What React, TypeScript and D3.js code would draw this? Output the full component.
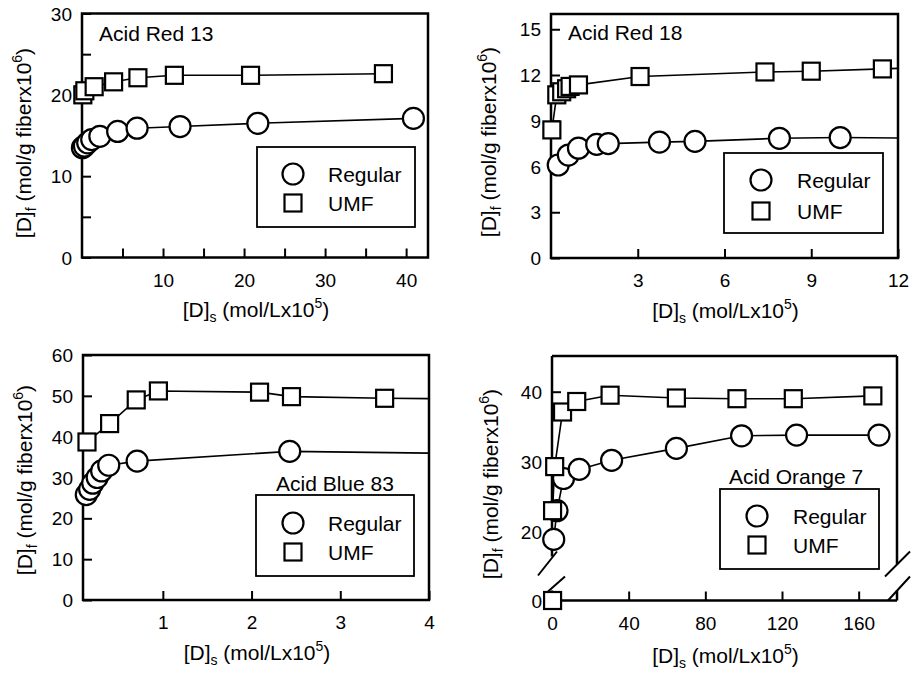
import React, { useEffect, useRef } from "react";
import * as d3 from "d3";

type Pt = [number, number];

// values: [ [D]s , [D]f ]
const red13Regular: Pt[] = [[0.05, 13.5], [0.3, 13.7], [0.7, 14.1], [1.2, 14.5], [2.2, 14.9], [4.4, 15.5], [6.8, 15.9], [12.1, 16.1], [21.7, 16.5], [40.9, 17.1]];
const red13Umf: Pt[] = [[0.1, 20.0], [0.35, 20.5], [1.5, 21.0], [3.9, 21.6], [6.9, 22.1], [11.4, 22.4], [20.8, 22.4], [37.2, 22.6]];

const red18Regular: Pt[] = [[0.25, 6.1], [0.6, 6.75], [0.95, 7.2], [1.58, 7.45], [1.98, 7.5], [3.75, 7.6], [4.98, 7.65], [7.9, 7.85], [10.0, 7.9], [13.0, 7.85]];
const red18Umf: Pt[] = [[0.03, 8.4], [0.2, 10.7], [0.37, 10.9], [0.54, 11.1], [0.66, 11.25], [0.95, 11.35], [3.08, 11.9], [7.4, 12.2], [9.0, 12.25], [11.46, 12.4], [13.0, 12.5]];

const blue83Regular: Pt[] = [[0.137, 25.8], [0.175, 27.1], [0.21, 28.6], [0.26, 30.0], [0.31, 31.6], [0.39, 33.0], [0.71, 34.0], [2.43, 36.4], [4.6, 35.8]];
const blue83Umf: Pt[] = [[0.145, 38.7], [0.4, 43.2], [0.7, 49.0], [0.95, 51.2], [2.09, 50.9], [2.45, 49.8], [3.5, 49.4], [4.6, 49.2]];

const orange7Regular: Pt[] = [[0.9, 18.9], [2.6, 23.0], [6.0, 27.6], [14.2, 28.9], [31.1, 30.2], [64.9, 31.9], [98.9, 33.7], [127.6, 33.8], [170.6, 33.8]];
const orange7Umf: Pt[] = [[0.3, 0], [0.3, 23.0], [1.4, 29.3], [5.5, 37.1], [12.9, 38.6], [30.3, 39.5], [64.9, 39.1], [96.5, 39.0], [125.9, 39.0], [167.4, 39.4]];

// ticks and which of them carry a label
const red13XTicks = [5, 10, 15, 20, 25, 30, 35, 40];
const red13XLabels = [10, 20, 30, 40];
const red13YTicks = [0, 5, 10, 15, 20, 25, 30];
const red13YLabels = [0, 10, 20, 30];

const red18XTicks = [3, 6, 9, 12];
const red18YTicks = [0, 3, 6, 9, 12, 15];

const blue83XTicks = [1, 2, 3, 4];
const blue83YTicks = [0, 10, 20, 30, 40, 50, 60];

const orange7XTicks = [0, 40, 80, 120, 160];
const orange7YTicks = [0, 20, 30, 40];

const titles = ["Acid Red 13", "Acid Red 18", "Acid Blue 83", "Acid Orange 7"];
const seriesNames = ["Regular", "UMF"];

const FONT = "Arial, 'Liberation Sans', Helvetica, sans-serif";

const panels = [
  {
    title: titles[0], titlePos: [99, 40.5],
    left: 82, right: 428, top: 13.5, bottom: 257.5,
    xDomain: [0, 42.7], yDomain: [0, 30], yRange: null as number[] | null,
    xTicks: red13XTicks, xLabels: red13XLabels, yTicks: red13YTicks, yLabels: red13YLabels,
    regular: red13Regular, umf: red13Umf,
    legend: { x0: 257, y0: 147, x1: 415, y1: 227, sx: 293, ry: 174, uy: 203, tx: 328 },
    yTitle: [31, 143], xTitleY: 317, broken: false,
  },
  {
    title: titles[1], titlePos: [568, 39.5],
    left: 551, right: 898, top: 14, bottom: 258,
    xDomain: [0, 12], yDomain: [0, 16], yRange: null,
    xTicks: red18XTicks, xLabels: red18XTicks, yTicks: red18YTicks, yLabels: red18YTicks,
    regular: red18Regular, umf: red18Umf,
    legend: { x0: 724, y0: 153, x1: 883, y1: 233, sx: 761, ry: 180, uy: 211, tx: 797 },
    yTitle: [496, 142], xTitleY: 318, broken: false,
  },
  {
    title: titles[2], titlePos: [276, 491],
    left: 83, right: 429, top: 355, bottom: 600,
    xDomain: [0.1, 4], yDomain: [0, 60], yRange: null,
    xTicks: blue83XTicks, xLabels: blue83XTicks, yTicks: blue83YTicks, yLabels: blue83YTicks,
    regular: blue83Regular, umf: blue83Umf,
    legend: { x0: 256, y0: 495, x1: 414, y1: 576, sx: 293, ry: 523, uy: 552, tx: 328 },
    yTitle: [32, 480], xTitleY: 660, broken: false,
  },
  {
    title: titles[3], titlePos: [729, 484],
    left: 552, right: 897, top: 356, bottom: 600.5,
    xDomain: [0, 180], yDomain: [0, 15, 45.1], yRange: [600.5, 566.7, 356],
    xTicks: orange7XTicks, xLabels: orange7XTicks, yTicks: orange7YTicks, yLabels: orange7YTicks,
    regular: orange7Regular, umf: orange7Umf,
    legend: { x0: 720, y0: 489, x1: 879, y1: 569, sx: 757, ry: 516, uy: 545, tx: 793 },
    yTitle: [498, 484], xTitleY: 663, broken: true,
  },
];

type Panel = (typeof panels)[number];

function drawPanel(svg: any, p: Panel, idx: number) {
  const x = d3.scaleLinear().domain(p.xDomain).range([p.left, p.right]);
  const y = d3.scaleLinear().domain(p.yDomain).range(p.yRange ?? [p.bottom, p.top]);
  const g = svg.append("g");

  // clip for the curves that run out of the frame
  g.append("clipPath").attr("id", `clip${idx}`)
    .append("rect")
    .attr("x", p.left).attr("y", p.top)
    .attr("width", p.right - p.left).attr("height", p.bottom - p.top);

  // x axis (inner ticks)
  g.append("g")
    .attr("transform", `translate(0,${p.bottom})`)
    .call(d3.axisBottom(x).tickValues(p.xTicks).tickSizeInner(-9).tickSizeOuter(0)
      .tickFormat((d: any) => (p.xLabels.includes(+d) ? String(d) : "")))
    .call((a: any) => a.select(".domain").remove())
    .call((a: any) => a.selectAll("line").attr("stroke", "#000").attr("stroke-width", 2))
    .call((a: any) => a.selectAll("text").attr("y", 29).attr("dy", null).attr("fill", "#000"))
    .attr("font-size", 19)
    .attr("font-family", FONT);

  // y axis
  g.append("g")
    .attr("transform", `translate(${p.left},0)`)
    .call(d3.axisLeft(y).tickValues(p.yTicks).tickSizeInner(-9).tickSizeOuter(0)
      .tickFormat((d: any) => (p.yLabels.includes(+d) ? String(d) : "")))
    .call((a: any) => a.select(".domain").remove())
    .call((a: any) => a.selectAll("line").attr("stroke", "#000").attr("stroke-width", 2))
    .call((a: any) => a.selectAll("text").attr("x", -10).attr("dy", "0.35em").attr("fill", "#000"))
    .attr("font-size", 19)
    .attr("font-family", FONT);

  // frame
  if (!p.broken) {
    g.append("rect")
      .attr("x", p.left).attr("y", p.top)
      .attr("width", p.right - p.left).attr("height", p.bottom - p.top)
      .attr("fill", "none").attr("stroke", "#000").attr("stroke-width", 2.5);
  } else {
    const L = p.left, R = p.right, T = p.top, B = p.bottom;
    const frame = d3.path();
    frame.moveTo(L, B); frame.lineTo(R, B);
    frame.moveTo(L, T); frame.lineTo(R, T);
    frame.moveTo(L, T); frame.lineTo(L, B - 44);
    frame.moveTo(L, B - 10); frame.lineTo(L, B);
    frame.moveTo(R, T); frame.lineTo(R, B - 36);
    frame.moveTo(R, B - 10); frame.lineTo(R, B);
    g.append("path").attr("d", frame.toString())
      .attr("fill", "none").attr("stroke", "#000").attr("stroke-width", 2.5);
    const marks = d3.path();
    // break on the y axis
    marks.moveTo(L - 14, B - 25); marks.lineTo(L + 5, B - 49);
    marks.moveTo(L - 4, B - 9); marks.lineTo(L + 13, B - 24);
    // break at the right end of the x axis
    marks.moveTo(R - 12, B - 24); marks.lineTo(R + 13, B - 49);
    marks.moveTo(R - 9, B); marks.lineTo(R + 13, B - 24);
    g.append("path").attr("d", marks.toString())
      .attr("fill", "none").attr("stroke", "#000").attr("stroke-width", 2);
  }

  // curves
  const line = d3.line<Pt>()
    .defined(d => !p.broken || d[1] > 0)
    .x(d => x(d[0]))
    .y(d => y(d[1]));
  [p.regular, p.umf].forEach(s => {
    g.append("path")
      .attr("d", line(s))
      .attr("clip-path", `url(#clip${idx})`)
      .attr("fill", "none").attr("stroke", "#000").attr("stroke-width", 1.6);
  });

  const inDomain = (d: Pt) => d[0] <= p.xDomain[p.xDomain.length - 1];

  g.append("g").selectAll("circle")
    .data(p.regular.filter(inDomain))
    .join("circle")
    .attr("cx", (d: Pt) => x(d[0]))
    .attr("cy", (d: Pt) => y(d[1]))
    .attr("r", 10.5)
    .attr("fill", "#fff").attr("stroke", "#000").attr("stroke-width", 2.2);

  const side = 17;
  g.append("g").selectAll("rect")
    .data(p.umf.filter(inDomain))
    .join("rect")
    .attr("x", (d: Pt) => x(d[0]) - side / 2)
    .attr("y", (d: Pt) => y(d[1]) - side / 2)
    .attr("width", side).attr("height", side)
    .attr("fill", "#fff").attr("stroke", "#000").attr("stroke-width", 2.2);

  // title
  g.append("text")
    .attr("x", p.titlePos[0]).attr("y", p.titlePos[1])
    .attr("font-family", FONT).attr("font-size", 21)
    .text(p.title);

  // legend
  const lg = p.legend;
  g.append("rect")
    .attr("x", lg.x0).attr("y", lg.y0)
    .attr("width", lg.x1 - lg.x0).attr("height", lg.y1 - lg.y0)
    .attr("fill", "#fff").attr("stroke", "#000").attr("stroke-width", 1.8);
  g.append("circle")
    .attr("cx", lg.sx).attr("cy", lg.ry).attr("r", 10.5)
    .attr("fill", "#fff").attr("stroke", "#000").attr("stroke-width", 2.2);
  g.append("rect")
    .attr("x", lg.sx - side / 2).attr("y", lg.uy - side / 2)
    .attr("width", side).attr("height", side)
    .attr("fill", "#fff").attr("stroke", "#000").attr("stroke-width", 2.2);
  [lg.ry, lg.uy].forEach((cy, i) => {
    g.append("text")
      .attr("x", lg.tx).attr("y", cy).attr("dy", "0.36em")
      .attr("font-family", FONT).attr("font-size", 21)
      .text(seriesNames[i]);
  });

  // x axis title
  const xt = g.append("text")
    .attr("x", (p.left + p.right) / 2 + 1).attr("y", p.xTitleY)
    .attr("text-anchor", "middle")
    .attr("font-family", FONT).attr("font-size", 21);
  xt.append("tspan").text("[D]");
  xt.append("tspan").attr("font-size", 14).attr("dy", 5).text("s");
  xt.append("tspan").attr("dy", -5).text(" (mol/Lx10");
  xt.append("tspan").attr("font-size", 14).attr("dy", -9).text("5");
  xt.append("tspan").attr("dy", 9).text(")");

  // y axis title
  const yt = g.append("text")
    .attr("transform", `translate(${p.yTitle[0]},${p.yTitle[1]}) rotate(-90)`)
    .attr("text-anchor", "middle")
    .attr("font-family", FONT).attr("font-size", 21);
  yt.append("tspan").text("[D]");
  yt.append("tspan").attr("font-size", 14).attr("dy", 5).text("f");
  yt.append("tspan").attr("dy", -5).text(" (mol/g fiberx10");
  yt.append("tspan").attr("font-size", 14).attr("dy", -9).text("6");
  yt.append("tspan").attr("dy", 9).text(")");
}

const App = () => {
  const ref = useRef<SVGSVGElement>(null);

  useEffect(() => {
    const svg = d3.select(ref.current);
    svg.selectAll("*").remove();
    panels.forEach((p, i) => drawPanel(svg, p, i));
  }, []);

  return (
    <svg
      ref={ref}
      width={911}
      height={673}
      style={{ position: "absolute", left: 0, top: 0, background: "#fff" }}
    />
  );
};

export default App;
